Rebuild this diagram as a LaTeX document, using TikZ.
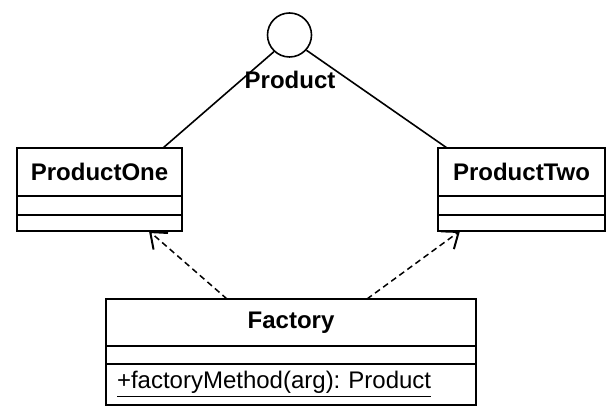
\documentclass[tikz,border=0pt]{standalone}
\usepackage{fontspec}
\setmainfont{Liberation Sans}
\usetikzlibrary{positioning,arrows.meta}
\frenchspacing
\tikzset{
  classe/.style={draw, line width=0.8pt, inner sep=0pt, outer sep=0pt, anchor=north west, font=\bfseries\fontsize{12}{14}\selectfont},
  compart/.style={draw, line width=0.8pt, inner sep=0pt, outer sep=0pt},
  depend/.style={line width=0.75pt, dash pattern=on 3pt off 2pt, -{Straight Barb[length=7pt,width=11pt,line width=1pt]}}
}
\begin{document}
\begin{tikzpicture}[x=0.5pt,y=-0.5pt]
  % Définir une couleur pour le schéma
  \definecolor{trait}{RGB}{0,0,0}
  \useasboundingbox (0,0) rectangle (614,415);

  % L'interface Product (le cercle)
  \node[draw=trait, circle, line width=0.8pt, minimum size=22pt, inner sep=0pt] (prod) at (289.5,35) {};
  \node[trait, font=\bfseries\fontsize{12}{14}\selectfont] (prodnom) at (290,80) {Product};

  % La classe ProductOne
  \node[classe, minimum width=82.5pt, minimum height=24pt] (un) at (17,148) {ProductOne};
  \node[compart, minimum width=82.5pt, minimum height=9.5pt, below=0pt of un] (unattr) {};
  \node[compart, minimum width=82.5pt, minimum height=8pt, below=0pt of unattr] (unmeth) {};

  % La classe ProductTwo
  \node[classe, minimum width=83.5pt, minimum height=24pt] (deux) at (438,148) {ProductTwo};
  \node[compart, minimum width=83.5pt, minimum height=9.5pt, below=0pt of deux] (deuxattr) {};
  \node[compart, minimum width=83.5pt, minimum height=8pt, below=0pt of deuxattr] (deuxmeth) {};

  % La classe Factory
  \node[classe, minimum width=185pt, minimum height=23.5pt] (fab) at (106,299) {Factory};
  \node[compart, minimum width=185pt, minimum height=9pt, below=0pt of fab] (fabattr) {};
  \node[compart, minimum width=185pt, minimum height=20.5pt, text width=174pt, inner xsep=5.5pt,
        align=left, font=\fontsize{12}{14}\selectfont, below=0pt of fabattr] (fabmeth)
        {\underline{+factoryMethod(arg): Product}};

  % Les traits de réalisation vers Product
  \draw[trait, line width=0.8pt] (prod.227) -- ([xshift=73pt]un.north west);
  \draw[trait, line width=0.8pt] (prod.318) -- ([xshift=4.5pt]deux.north west);

  % Les dépendances de Factory
  \draw[trait, depend] ([xshift=60.5pt]fab.north west) -- ([xshift=66pt]unmeth.south west);
  \draw[trait, depend] ([xshift=130.5pt]fab.north west) -- ([xshift=11pt]deuxmeth.south west);
\end{tikzpicture}
\end{document}
